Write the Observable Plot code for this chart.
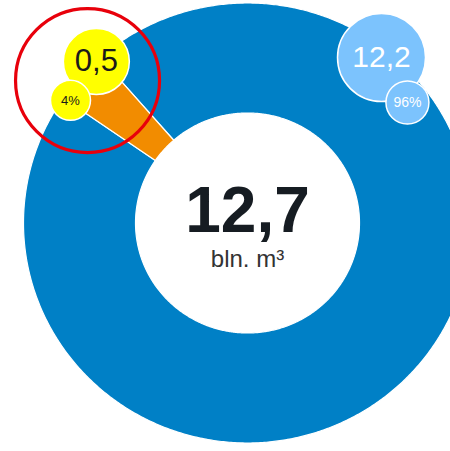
<!DOCTYPE html>
<html>
<head>
<meta charset="utf-8">
<script src="https://cdn.jsdelivr.net/npm/d3@7"></script>
<script src="https://cdn.jsdelivr.net/npm/@observablehq/plot@0.6"></script>
<style>
  html, body { margin: 0; padding: 0; background: #ffffff; }
  #chart { width: 450px; height: 451px; overflow: hidden; }
</style>
</head>
<body>
<div id="chart"></div>
<script>
// ---- data ----
const categories = ["main", "highlight"];
const values = [12.2, 0.5];
const unitLabel = "bln. m³";

// ---- styles ----
const sliceColors = ["#0080c6", "#f28c00"];
const bubbleColors = ["#7cc3fd", "#ffff00"];
const bubbleTextColors = ["#ffffff", "#1a1a1a"];
const highlightColor = "#e8000b";

// ---- layout (polar: angle in degrees clockwise from top, radius in ring units) ----
const ringInner = 0.5;
const ringStartDeg = -41.2;
const valueBubbleLayout = [
  {angle: 38.5, radius: 0.961, r: 44, font: 30},
  {angle: -42.6, radius: 0.997, r: 33, font: 31}
];
const pctBubbleLayout = [
  {angle: 52.5, radius: 0.90, r: 21.5, font: 14},
  {angle: -54.8, radius: 0.967, r: 20, font: 13}
];
const highlightLayout = {angle: -47.8, radius: 0.964, r: 72};

// ---- helpers ----
const rad = (deg) => deg * Math.PI / 180;
const polar = (angleDeg, radius) => ({x: Math.sin(rad(angleDeg)) * radius, y: Math.cos(rad(angleDeg)) * radius});
const fmt = (v) => d3.format(".1f")(v).replace(".", ",");
const total = d3.sum(values);

const pie = d3.pie().sort(null).value(d => d.value)
  .startAngle(rad(ringStartDeg)).endAngle(rad(ringStartDeg) + 2 * Math.PI);
const arcs = pie(categories.map((c, i) => ({key: c, value: values[i], i})));

// build slice outlines from pie angles
const slicePts = arcs.flatMap(a => {
  const n = Math.max(4, Math.ceil((a.endAngle - a.startAngle) / rad(0.5)));
  const outer = d3.range(n + 1).map(k => a.startAngle + (a.endAngle - a.startAngle) * k / n);
  const pts = [];
  for (const t of outer) pts.push({key: a.data.key, color: sliceColors[a.data.i], x: Math.sin(t), y: Math.cos(t)});
  for (const t of outer.slice().reverse()) pts.push({key: a.data.key, color: sliceColors[a.data.i], x: Math.sin(t) * ringInner, y: Math.cos(t) * ringInner});
  return pts;
});

const valueBubbles = categories.map((c, i) => ({
  ...polar(valueBubbleLayout[i].angle, valueBubbleLayout[i].radius),
  r: valueBubbleLayout[i].r, font: valueBubbleLayout[i].font,
  label: fmt(values[i]), fill: bubbleColors[i], text: bubbleTextColors[i]
}));
const pctBubbles = categories.map((c, i) => ({
  ...polar(pctBubbleLayout[i].angle, pctBubbleLayout[i].radius),
  r: pctBubbleLayout[i].r, font: pctBubbleLayout[i].font,
  label: Math.round(values[i] / total * 100) + "%", fill: bubbleColors[i], text: bubbleTextColors[i]
}));
const hl = polar(highlightLayout.angle, highlightLayout.radius);

const bubbleMarks = categories.flatMap((c, i) => [
  Plot.dot([valueBubbles[i]], {x: "x", y: "y", r: valueBubbles[i].r, fill: valueBubbles[i].fill, stroke: "white", strokeWidth: 1.5}),
  Plot.text([valueBubbles[i]], {x: "x", y: "y", text: "label", fontSize: valueBubbles[i].font, fill: valueBubbles[i].text, textAnchor: "middle", lineAnchor: "middle"}),
  Plot.dot([pctBubbles[i]], {x: "x", y: "y", r: pctBubbles[i].r, fill: pctBubbles[i].fill, stroke: "white", strokeWidth: 1.5}),
  Plot.text([pctBubbles[i]], {x: "x", y: "y", text: "label", fontSize: pctBubbles[i].font, fill: pctBubbles[i].text, textAnchor: "middle", lineAnchor: "middle"})
]);

const chart = Plot.plot({
  width: 450,
  height: 451,
  margin: 0,
  x: {domain: [-1, 1], range: [23, 471], axis: null},
  y: {domain: [-1, 1], range: [442.5, 2.5], axis: null},
  color: {type: "identity"},
  style: {background: "white", fontFamily: "'Liberation Sans', Arial, Helvetica, sans-serif", overflow: "hidden"},
  marks: [
    Plot.line(slicePts, {x: "x", y: "y", z: "key", fill: "color", stroke: "white", strokeWidth: 1.2, curve: "linear-closed"}),
    Plot.dot([hl], {x: "x", y: "y", r: highlightLayout.r, fill: "none", stroke: highlightColor, strokeWidth: 3.2, ariaLabel: "highlight-ring"}),
    ...bubbleMarks,
    Plot.text([{x: 0, y: 0, label: fmt(total)}], {x: "x", y: "y", text: "label", fontSize: 64, fontWeight: "bold", fill: "#161c22", textAnchor: "middle", lineAnchor: "bottom", dy: 8.5}),
    Plot.text([{x: 0, y: 0, label: unitLabel}], {x: "x", y: "y", text: "label", fontSize: 24, fill: "#333333", textAnchor: "middle", lineAnchor: "bottom", dy: 43.5})
  ]
});

document.getElementById("chart").appendChild(chart);
const ringG = chart.querySelector('g[aria-label="highlight-ring"]');
if (ringG) ringG.style.filter = "drop-shadow(1px 2px 2px rgba(0,0,0,0.35))";
</script>
</body>
</html>
